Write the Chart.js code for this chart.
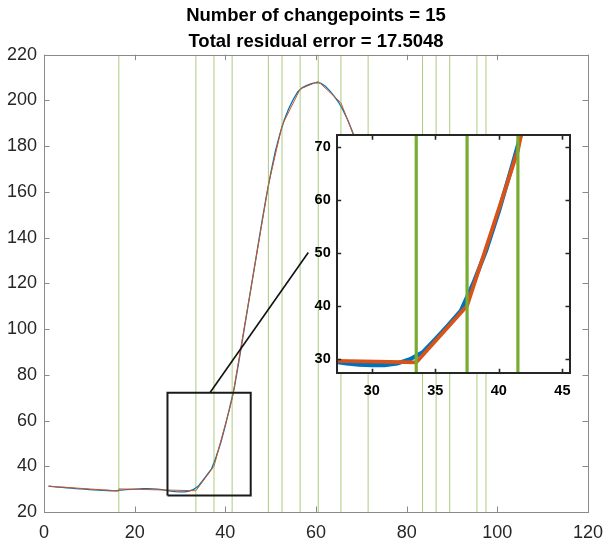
<!DOCTYPE html>
<html><head><meta charset="utf-8">
<script src="https://cdn.jsdelivr.net/npm/chart.js@4.4.1/dist/chart.umd.min.js"></script>
<style>
html,body{margin:0;padding:0;background:#fff;}
#wrap{position:relative;width:613px;height:545px;overflow:hidden;}
#main{position:absolute;left:0;top:0;}
#inset{position:absolute;left:290px;top:120px;}
</style></head><body>
<div id="wrap"><canvas id="main" width="613" height="545"></canvas><canvas id="inset" width="300" height="290"></canvas></div>
<script>
// ---------- data ----------
const TITLE_LINES = ['Number of changepoints = 15', 'Total residual error = 17.5048'];
// measured signal, samples 1..100 (values after ~72 are hidden behind the inset)
const SIGNAL = [
  31.3, 31.1, 30.9, 30.8, 30.6, 30.4, 30.2, 30.1, 30.0, 29.8,
  29.7, 29.6, 29.5, 29.4, 29.3, 29.3, 29.6, 29.8, 29.9, 30.0,
  30.1, 30.2, 30.2, 30.1, 30.0, 29.8, 29.5, 29.1, 28.9, 28.8,
  28.8, 29.1, 29.9, 31.2, 33.7, 36.3, 39.0, 44.3, 50.4, 57.8,
  66.0, 74.5, 86.0, 98.0, 110.0, 122.0, 134.0, 146.0, 157.5, 168.0,
  177.5, 185.0, 191.5, 196.5, 200.5, 203.8, 205.6, 206.6, 207.3, 207.8,
  207.6, 206.3, 204.3, 201.9, 199.2, 195.6, 191.4, 186.5, 181.0, 175.0,
  169.0, 162.5, 156.0, 149.5, 143.0, 137.0, 131.0, 125.5, 120.5, 116.0,
  112.0, 108.5, 105.5, 103.0, 101.0, 99.0, 97.5, 96.0, 95.0, 94.0,
  93.0, 92.5, 92.0, 91.5, 91.0, 90.5, 90.0, 89.5, 89.0, 88.5
];
// piecewise-linear fit vertices (x, y)
const FIT_X = [1, 16.5, 16.5, 33.5, 37.5, 41.5, 49.5, 52.5, 56.5, 60.5, 65.5, 71.5, 83.5, 86.5, 89.5, 95.5, 97.5, 100];
const FIT_Y = [31.3, 29.2, 30.1, 29.3, 40.0, 69.3, 163.0, 189.0, 205.0, 208.3, 199.0, 168.5, 109.0, 101.0, 96.5, 92.5, 90.5, 88.5];
const CHANGEPOINTS = [16.5, 33.5, 37.5, 41.5, 49.5, 52.5, 56.5, 60.5, 65.5, 71.5, 83.5, 86.5, 89.5, 95.5, 97.5];

const X_RANGE = [0, 120];
const Y_RANGE = [20, 220];
const X_TICKS = [0, 20, 40, 60, 80, 100, 120];
const Y_TICKS = [20, 40, 60, 80, 100, 120, 140, 160, 180, 200, 220];

// zoomed region (shown as rectangle in main axes and as inset limits)
const ZOOM_X = [27.24, 45.6];
const ZOOM_Y = [27.25, 72.15];
const INSET_X_TICKS = [30, 35, 40, 45];
const INSET_Y_TICKS = [30, 40, 50, 60, 70];
// connector line from rectangle to inset (main-axes data coords)
const CONNECTOR_X = [36.6, 58.3];
const CONNECTOR_Y = [72.15, 133.5];

// ---------- styles ----------
const BLUE = '#0072BD', ORANGE = '#D95319', GREEN = '#77AC30';
const FONT = "'Liberation Sans', Arial, Helvetica, sans-serif";

const signalPts = SIGNAL.map((v, i) => ({x: i + 1, y: v}));
const fitPts = FIT_X.map((x, i) => ({x, y: FIT_Y[i]}));

function cpDatasets(ylo, yhi, color, width, order) {
  return CHANGEPOINTS.map(cp => ({
    data: [{x: cp, y: ylo}, {x: cp, y: yhi}],
    borderColor: color, borderWidth: width, pointRadius: 0, showLine: true, order, clip: 0
  }));
}

function framePlugin(color, width, tickLen, tickWidth) {
  return {
    id: 'frame',
    beforeDraw(chart) {
      const {ctx, chartArea: a} = chart;
      ctx.save();
      ctx.fillStyle = '#fff';
      ctx.fillRect(a.left, a.top, a.right - a.left, a.bottom - a.top);
      ctx.restore();
    },
    afterDraw(chart) {
      const {ctx, chartArea: a, scales: {x, y}} = chart;
      ctx.save();
      ctx.strokeStyle = color;
      ctx.lineWidth = tickWidth;
      ctx.beginPath();
      x.ticks.forEach(t => {
        const px = Math.round(x.getPixelForValue(t.value)) + 0.5;
        ctx.moveTo(px, a.bottom); ctx.lineTo(px, a.bottom - tickLen);
        ctx.moveTo(px, a.top); ctx.lineTo(px, a.top + tickLen);
      });
      y.ticks.forEach(t => {
        const py = Math.round(y.getPixelForValue(t.value)) + 0.5;
        ctx.moveTo(a.left, py); ctx.lineTo(a.left + tickLen, py);
        ctx.moveTo(a.right, py); ctx.lineTo(a.right - tickLen, py);
      });
      ctx.stroke();
      ctx.lineWidth = width;
      const off = width % 2 === 1 ? 0.5 : 0;
      ctx.strokeRect(Math.round(a.left) + off, Math.round(a.top) + off,
        Math.round(a.right) - Math.round(a.left), Math.round(a.bottom) - Math.round(a.top));
      ctx.restore();
    }
  };
}

// ---------- main chart ----------
new Chart(document.getElementById('main'), {
  type: 'scatter',
  data: {
    datasets: [
      {data: [{x: ZOOM_X[0], y: ZOOM_Y[0]}, {x: ZOOM_X[1], y: ZOOM_Y[0]}, {x: ZOOM_X[1], y: ZOOM_Y[1]},
              {x: ZOOM_X[0], y: ZOOM_Y[1]}, {x: ZOOM_X[0], y: ZOOM_Y[0]}],
       borderColor: '#1a1a1a', borderWidth: 2, pointRadius: 0, showLine: true, order: 0},
      {data: CONNECTOR_X.map((x, i) => ({x, y: CONNECTOR_Y[i]})),
       borderColor: '#111', borderWidth: 1.6, pointRadius: 0, showLine: true, order: 0, clip: false},
      ...cpDatasets(Y_RANGE[0], Y_RANGE[1], 'rgba(119,172,48,0.62)', 1, 1),
      {data: fitPts, borderColor: ORANGE, borderWidth: 1, pointRadius: 0, showLine: true, order: 2},
      {data: signalPts, borderColor: BLUE, borderWidth: 1.3, pointRadius: 0, showLine: true, order: 3}
    ]
  },
  options: {
    responsive: false, animation: false, devicePixelRatio: 1, events: [],
    layout: {padding: {left: 0, right: 16, top: 0, bottom: 0}},
    plugins: {
      legend: {display: false}, tooltip: {enabled: false},
      title: {display: true, text: TITLE_LINES, fullSize: false, color: '#000',
        font: {family: FONT, size: 18.5, weight: 'bold', lineHeight: 26 / 18.5},
        padding: {top: 2.5, bottom: 0.2}}
    },
    scales: {
      x: {type: 'linear', min: X_RANGE[0], max: X_RANGE[1],
        grid: {display: false, drawTicks: false}, border: {display: false},
        afterBuildTicks: s => { s.ticks = X_TICKS.map(v => ({value: v})); },
        afterFit: s => { s.height = 33; },
        ticks: {autoSkip: false, maxRotation: 0, padding: 10, color: '#262626', font: {family: FONT, size: 18}}},
      y: {type: 'linear', min: Y_RANGE[0], max: Y_RANGE[1],
        grid: {display: false, drawTicks: false}, border: {display: false},
        afterBuildTicks: s => { s.ticks = Y_TICKS.map(v => ({value: v})); },
        afterFit: s => { s.width = 44; },
        ticks: {autoSkip: false, crossAlign: 'near', padding: 7, color: '#262626', font: {family: FONT, size: 18}}}
    }
  },
  plugins: [framePlugin('#8a8a8a', 1, 5.5, 1)]
});

// ---------- inset chart ----------
new Chart(document.getElementById('inset'), {
  type: 'scatter',
  data: {
    datasets: [
      ...cpDatasets(ZOOM_Y[0], ZOOM_Y[1], GREEN, 3.2, 0),
      {data: fitPts, borderColor: ORANGE, borderWidth: 3.8, pointRadius: 0, showLine: true, order: 1, clip: 0},
      {data: signalPts, borderColor: BLUE, borderWidth: 4.2, pointRadius: 0, showLine: true, order: 2, clip: 0}
    ]
  },
  options: {
    responsive: false, animation: false, devicePixelRatio: 1, events: [],
    layout: {padding: {left: 0, right: 20, top: 15.3, bottom: 0}},
    plugins: {legend: {display: false}, tooltip: {enabled: false}, title: {display: false}},
    scales: {
      x: {type: 'linear', min: ZOOM_X[0], max: ZOOM_X[1],
        grid: {display: false, drawTicks: false}, border: {display: false},
        afterBuildTicks: s => { s.ticks = INSET_X_TICKS.map(v => ({value: v})); },
        afterFit: s => { s.height = 36.7; },
        ticks: {autoSkip: false, maxRotation: 0, padding: 9, color: '#000', font: {family: FONT, size: 14.5, weight: 'bold'}}},
      y: {type: 'linear', min: ZOOM_Y[0], max: ZOOM_Y[1],
        grid: {display: false, drawTicks: false}, border: {display: false},
        afterBuildTicks: s => { s.ticks = INSET_Y_TICKS.map(v => ({value: v})); },
        afterFit: s => { s.width = 46.7; },
        ticks: {autoSkip: false, crossAlign: 'near', padding: 6, color: '#000', font: {family: FONT, size: 14.5, weight: 'bold'}}}
    }
  },
  plugins: [framePlugin('#262626', 2, 4.5, 1.6)]
});
</script>
</body></html>
